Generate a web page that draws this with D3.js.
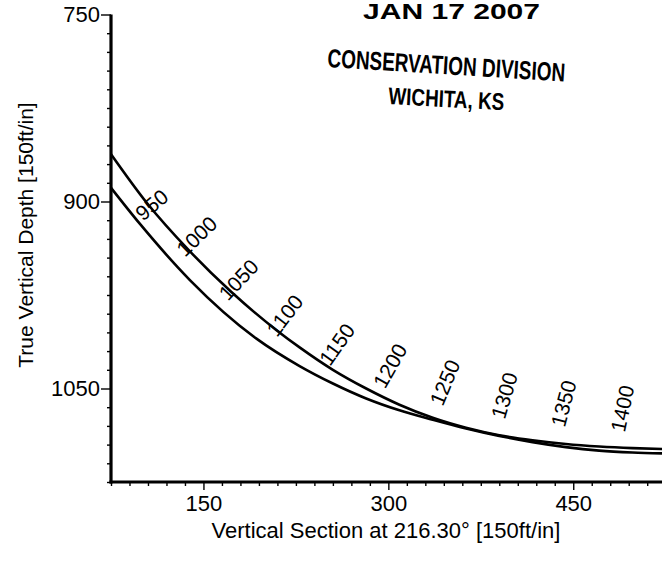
<!DOCTYPE html>
<html>
<head>
<meta charset="utf-8">
<script src="https://cdn.jsdelivr.net/npm/d3@7/dist/d3.min.js"></script>
<style>
  html, body { margin: 0; padding: 0; background: #fff; }
  svg { display: block; }
  text { font-family: "Liberation Sans", Arial, sans-serif; fill: #000; }
</style>
</head>
<body>
<svg id="chart" width="662" height="563"></svg>
<script>
// ---- data ----
const xMajorTicks = [150, 300, 450];
const yMajorTicks = [750, 900, 1050];
const minorStep = 15;

// Curve A (upper at left, carries MD labels)
const vsA  = [75, 104, 139, 172, 209, 228, 255, 282, 309, 336, 363, 390, 417, 444, 471, 498, 522];
const tvdA = [862, 901, 940, 972, 1003, 1017, 1035, 1050, 1063, 1073.5, 1081.5, 1087.5, 1091.5, 1094.5, 1096.5, 1097.8, 1098.5];

// Curve B (lower at left)
const vsB  = [75, 98.5, 139, 193, 228, 255, 282, 309, 336, 363, 390, 417, 444, 471, 498, 522];
const tvdB = [889, 918, 963, 1010, 1032, 1046, 1058, 1067.5, 1075, 1082, 1088, 1093, 1097, 1099.8, 1101.3, 1102];

// Measured-depth annotations (anchor in data units)
const mdLabels = [950, 1000, 1050, 1100, 1150, 1200, 1250, 1300, 1350, 1400];
const labelVS  = [100.9, 135, 169.9, 209.6, 252.6, 297.2, 344.2, 394.5, 443.1, 491.8];
const labelTVD = [916.2, 945.1, 980.5, 1009.4, 1032.7, 1051.1, 1064.8, 1075.2, 1081.6, 1085.6];

const xTitle = "Vertical Section at 216.30\u00B0 [150ft/in]";
const yTitle = "True Vertical Depth [150ft/in]";
const stampLines = ["JAN 17 2007", "CONSERVATION DIVISION", "WICHITA, KS"];

// ---- scales ----
const svg = d3.select("#chart");
const x = d3.scaleLinear().domain([75, 522]).range([111, 662]);
const y = d3.scaleLinear().domain([750, 1125]).range([14.5, 482]);
const fmt = d3.format("d");

// ---- axes ----
const minorX = d3.range(75, 523, minorStep).filter(v => !xMajorTicks.includes(v));
const minorY = d3.range(750, 1126, minorStep).filter(v => !yMajorTicks.includes(v));

function styleTicks(g) {
  g.select(".domain").remove();
  g.selectAll("line").attr("stroke", "#000").attr("stroke-width", 1.4);
  g.selectAll("text").attr("font-size", 22)
    .attr("font-family", "Liberation Sans, Arial, sans-serif").attr("fill", "#000");
}

const gx = svg.append("g").attr("transform", `translate(0,${y(1125)})`);
gx.append("g").call(d3.axisBottom(x).tickValues(minorX).tickSize(4).tickFormat("")).call(styleTicks);
gx.append("g").call(d3.axisBottom(x).tickValues(xMajorTicks).tickSize(8).tickPadding(5).tickFormat(fmt)).call(styleTicks);

const gy = svg.append("g").attr("transform", `translate(${x(75)},0)`);
gy.append("g").call(d3.axisLeft(y).tickValues(minorY).tickSize(4).tickFormat("")).call(styleTicks);
gy.append("g").call(d3.axisLeft(y).tickValues(yMajorTicks).tickSize(10).tickPadding(1).tickFormat(fmt)).call(styleTicks);

// axis lines
svg.append("line").attr("x1", x(75)).attr("x2", x(75)).attr("y1", y(750)).attr("y2", y(1125) + 1.5)
  .attr("stroke", "#000").attr("stroke-width", 3.2);
svg.append("line").attr("x1", x(75) - 1.5).attr("x2", 662).attr("y1", y(1125)).attr("y2", y(1125))
  .attr("stroke", "#000").attr("stroke-width", 3.2);

// ---- curves ----
const line = d3.line().x(d => x(d[0])).y(d => y(d[1])).curve(d3.curveMonotoneX);
const ptsA = vsA.map((v, i) => [v, tvdA[i]]);
const ptsB = vsB.map((v, i) => [v, tvdB[i]]);
[ptsB, ptsA].forEach(p => {
  svg.append("path").attr("d", line(p)).attr("fill", "none")
    .attr("stroke", "#000").attr("stroke-width", 2.6).attr("stroke-linejoin", "round");
});

// ---- MD labels, rotated from the local slope of curve A ----
function slopeAt(v) {
  const i = Math.max(0, Math.min(vsA.length - 2, d3.bisectRight(vsA, v) - 1));
  const dx = x(vsA[i + 1]) - x(vsA[i]);
  const dy = y(tvdA[i + 1]) - y(tvdA[i]);
  return Math.atan2(dy, dx) * 180 / Math.PI;
}
mdLabels.forEach((md, i) => {
  const px = x(labelVS[i]), py = y(labelTVD[i]);
  const s = slopeAt(labelVS[i]);
  const ang = 80 - 0.75 * s;
  svg.append("text")
    .attr("transform", `translate(${px},${py}) rotate(${-ang})`)
    .attr("font-size", 21)
    .attr("text-anchor", "start")
    .text(md);
});

// ---- axis titles ----
svg.append("text").attr("x", 386).attr("y", 538).attr("text-anchor", "middle")
  .attr("font-size", 22).text(xTitle);
svg.append("text").attr("transform", `translate(33,235) rotate(-90)`).attr("text-anchor", "middle")
  .attr("font-size", 21).text(yTitle);

// ---- stamp ----
const stamp = svg.append("g").attr("font-weight", "bold");
stamp.append("text").attr("x", 363).attr("y", 19).attr("font-size", 22)
  .attr("textLength", 177).attr("lengthAdjust", "spacingAndGlyphs").text(stampLines[0]);
stamp.append("text").attr("transform", "translate(327,67) rotate(3.5)").attr("font-size", 26)
  .attr("textLength", 238).attr("lengthAdjust", "spacingAndGlyphs").text(stampLines[1]);
stamp.append("text").attr("transform", "translate(388,104) rotate(3)").attr("font-size", 24)
  .attr("textLength", 116).attr("lengthAdjust", "spacingAndGlyphs").text(stampLines[2]);
</script>
</body>
</html>
